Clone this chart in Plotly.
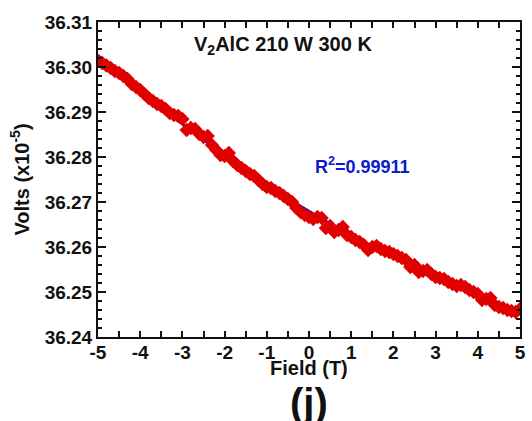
import numpy as np
import plotly.graph_objects as go

# Magnetic field sweep (T)
field = [round(-5 + 0.1 * i, 1) for i in range(101)]

# Measured voltage (x1e-5 V)
volts = [
    36.30133, 36.30089, 36.30033, 36.29978, 36.29911, 36.29867, 36.29800, 36.29733, 36.29622, 36.29556,
    36.29489, 36.29400, 36.29311, 36.29244, 36.29178, 36.29133, 36.29067, 36.28978, 36.28933, 36.28911,
    36.28844, 36.28600, 36.28644, 36.28622, 36.28511, 36.28444, 36.28467, 36.28267, 36.28156, 36.28044,
    36.28022, 36.28089, 36.27911, 36.27822, 36.27756, 36.27689, 36.27622, 36.27578, 36.27489, 36.27400,
    36.27333, 36.27311, 36.27244, 36.27200, 36.27133, 36.27067, 36.27000, 36.26867, 36.26778, 36.26711,
    36.26667, 36.26622, 36.26667, 36.26644, 36.26422, 36.26467, 36.26333, 36.26378, 36.26444, 36.26267,
    36.26222, 36.26156, 36.26111, 36.26044, 36.25933, 36.26000, 36.26022, 36.25956, 36.25911, 36.25889,
    36.25844, 36.25800, 36.25756, 36.25711, 36.25556, 36.25600, 36.25444, 36.25467, 36.25489, 36.25400,
    36.25333, 36.25311, 36.25289, 36.25222, 36.25178, 36.25133, 36.25156, 36.25111, 36.25044, 36.25000,
    36.24956, 36.24822, 36.24844, 36.24867, 36.24711, 36.24667, 36.24644, 36.24600, 36.24578, 36.24556,
    36.24622,
]

x_ticks = [-5, -4, -3, -2, -1, 0, 1, 2, 3, 4, 5]
x_tick_text = ["-5", "-4", "-3", "-2", "-1", "0", "1", "2", "3", "4", "5"]
y_ticks = [36.24, 36.25, 36.26, 36.27, 36.28, 36.29, 36.30, 36.31]

# Polynomial fit drawn through the measurements
coef = np.polyfit(field, volts, 2)
fit_x = np.linspace(-5, 5, 201)
fit_y = np.polyval(coef, fit_x)

FONT = "Liberation Sans, Arial, sans-serif"
INK = "#111"

fig = go.Figure()
# fit curve underneath, measured points on top
fig.add_trace(go.Scatter(
    x=fit_x, y=fit_y, mode="lines",
    line=dict(color="#0000ff", width=2.5),
    showlegend=False,
))
fig.add_trace(go.Scatter(
    x=field, y=volts, mode="markers",
    marker=dict(symbol="diamond", size=11, color="#e00000", line=dict(width=0)),
    showlegend=False,
))

axis_common = dict(
    showline=True, linecolor=INK, linewidth=2, mirror="ticks",
    ticks="inside", tickcolor=INK, tickwidth=1.5,
    showgrid=False, zeroline=False,
    tickfont=dict(family=FONT, size=19, color=INK, weight="bold"),
)

fig.update_xaxes(
    range=[-5, 5], tickvals=x_ticks, ticktext=x_tick_text, ticklen=6,
    ticklabelstandoff=-3,
    minor=dict(dtick=0.5, ticks="inside", ticklen=6, tickcolor=INK, tickwidth=1.5),
    **axis_common,
)
fig.update_yaxes(
    range=[36.24, 36.31], tickvals=y_ticks, tickformat=".2f", ticklen=8,
    minor=dict(dtick=0.002, ticks="inside", ticklen=4, tickcolor=INK, tickwidth=1.5),
    title=dict(text="Volts (x10<sup>-5</sup>)", font=dict(family=FONT, size=20, color=INK, weight="bold"), standoff=10),
    **axis_common,
)

fig.add_annotation(
    x=0.5, y=-0.098, xref="paper", yref="paper", xanchor="center", yanchor="middle",
    text="Field (T)", showarrow=False,
    font=dict(family=FONT, size=20, color=INK, weight="bold"),
)
fig.add_annotation(
    x=0.439, y=0.924, xref="paper", yref="paper", xanchor="center", yanchor="middle",
    text="V<sub>2</sub>AlC 210 W 300 K", showarrow=False,
    font=dict(family=FONT, size=20, color=INK, weight="bold"),
)
fig.add_annotation(
    x=0.626, y=0.546, xref="paper", yref="paper", xanchor="center", yanchor="middle",
    text="R<sup>2</sup>=0.99911", showarrow=False,
    font=dict(family=FONT, size=18, color="#0a1ad0", weight="bold"),
)
fig.add_annotation(
    x=0.5, y=-0.21, xref="paper", yref="paper", xanchor="center", yanchor="middle",
    text="(j)", showarrow=False,
    font=dict(family=FONT, size=40, color=INK, weight="bold"),
)

fig.update_layout(
    width=532, height=421,
    margin=dict(l=98, r=6, t=22, b=84),
    plot_bgcolor="white", paper_bgcolor="white",
)

fig.write_html("out.html")
